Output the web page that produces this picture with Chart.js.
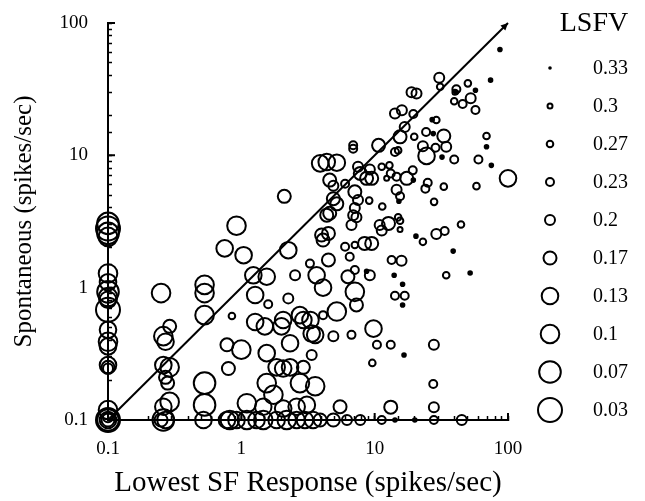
<!DOCTYPE html>
<html>
<head>
<meta charset="utf-8">
<script src="https://cdn.jsdelivr.net/npm/chart.js@4"></script>
<style>
  html, body { margin: 0; padding: 0; background: #fff; }
  #wrap { width: 645px; height: 501px; }
</style>
</head>
<body>
<div id="wrap"><canvas id="sfChart" width="645" height="501"></canvas></div>
<script>
// LSFV levels shown in the key, largest value (smallest marker) first
const lsfvLevels = [0.33, 0.3, 0.27, 0.23, 0.2, 0.17, 0.13, 0.1, 0.07, 0.03];
const markerRadius = [1.8, 2.5, 3.3, 4, 5, 6.5, 8.3, 9.3, 10.8, 12];

// [lowest SF response, spontaneous rate] per cell, spikes/sec
const cells033 = [[8.7, 1.33], [16.6, 0.31], [14, 1.24], [16.2, 1.06], [16.2, 0.74], [20.4, 2.45],
  [38.8, 1.89], [52, 1.29], [14.2, 0.1], [20, 0.1], [87, 63], [74, 37], [41, 30], [57, 31],
  [27, 18.6], [27.5, 14.6], [69, 11.6], [32, 9.7], [75, 8.4], [19.5, 6.5], [15.2, 4.5]];
const cells030 = [[15.5, 2.75], [40, 30], [12.3, 6.7]];
const cells027 = [[0.85, 0.61], [15, 3.4], [15.5, 3.2], [7.1, 2.1], [9.6, 0.27], [23, 2.22],
  [44.4, 3.0], [34.4, 1.24], [31, 33], [50, 35], [39.5, 25.6], [29, 18.5], [69, 14], [58, 5.85],
  [33, 5.8], [27.9, 4.45], [12.9, 8.4], [11.4, 4.1], [9.1, 4.55], [19.8, 13.8], [15, 10.9], [11.3, 8.2]];
const cells023 = [[1.59, 0.75], [6.0, 2.04], [3.27, 1.52], [6.5, 1.71], [7.1, 1.36], [4.1, 0.62],
  [6.7, 0.44], [10.4, 0.37], [13.2, 0.37], [13.4, 1.62], [14.2, 0.87], [16.8, 0.87], [33.5, 2.68],
  [27.5, 0.187], [27.8, 0.1], [11.3, 0.1], [41, 31.6], [45.7, 24.4], [57, 22], [24.3, 15],
  [28.6, 11.4], [39.5, 9.3], [60, 9.3], [25, 6.2], [24, 5.6], [19.3, 7.7], [14.6, 6.9], [13.2, 7.3],
  [15.5, 4.9], [19.5, 20.5], [6.9, 11.9], [6.9, 11.2], [14.2, 10.6], [6.0, 6.1]];
const cells020 = [[0.1, 0.245], [0.1, 0.105], [2.53, 1.24], [2.25, 0.83], [6.9, 3.53], [7.3, 3.4],
  [6.7, 2.97], [10.9, 2.97], [11.3, 2.7], [9.2, 1.24], [4.9, 0.43], [3.37, 0.31], [15.9, 1.6],
  [29, 2.54], [27.8, 0.37], [27.8, 0.125], [6.2, 0.1], [7.8, 0.1], [45, 0.1], [30.5, 38.5],
  [52.5, 27], [23, 11.7], [34.4, 11.6], [14.6, 5.5], [18.9, 30], [20.6, 29.3], [16, 21.9],
  [14.2, 20.7], [16.8, 16.4], [9.2, 7.8], [7.5, 8.2], [4.9, 5.9], [7.5, 4.6], [7.1, 4.0]];
const cells017 = [[0.1, 0.25], [0.1, 0.1], [0.29, 0.51], [0.27, 0.21], [0.28, 0.19], [0.25, 0.1],
  [0.78, 0.37], [0.8, 0.245], [2.92, 0.25], [2.1, 4.9], [4.37, 3.53], [4.6, 3.65], [12.7, 3.06],
  [4.0, 2.5], [4.1, 2.29], [4.5, 2.57], [8.4, 2.16], [9.5, 2.16], [4.5, 1.62], [6.3, 1.21],
  [7.3, 0.74], [13.2, 0.125], [5.5, 0.126], [3.9, 0.1], [4.9, 0.1], [33, 14], [17.4, 6.7],
  [15.5, 13.8], [10.7, 11.9], [7.8, 7.3], [9.5, 6.7], [4.6, 6.5], [7.1, 5.3], [4.9, 4.7],
  [5.2, 4.3], [8.7, 6.7]];
const cells013 = [[0.1, 1.1], [0.1, 0.81], [0.1, 0.48], [0.1, 0.36], [0.1, 0.26], [0.1, 0.1],
  [0.27, 0.39], [0.26, 0.26], [0.26, 0.126], [0.27, 0.1], [0.52, 0.1], [0.75, 1.98], [1.04, 1.76],
  [2.25, 1.92], [1.23, 1.24], [1.55, 1.21], [1.27, 0.88], [1.27, 0.55], [1.5, 0.51], [2.06, 0.57],
  [2.0, 0.51], [2.75, 0.62], [2.92, 0.57], [1.55, 0.32], [2.32, 0.38], [1.84, 0.25], [2.06, 0.245],
  [2.32, 0.25], [1.46, 0.126], [2.06, 0.122], [2.6, 0.126], [0.78, 0.1], [0.92, 0.1], [1.3, 0.1],
  [1.84, 0.1], [2.6, 0.1], [3.0, 0.1], [3.67, 1.24], [4.1, 1.0], [3.3, 0.57], [3.58, 0.44],
  [3.37, 0.45], [9.8, 0.49], [3.1, 0.13], [3.45, 0.1], [24.5, 9.9], [100, 6.7], [4.37, 8.9],
  [5.2, 8.8], [3.9, 8.7]];
const cells010 = [[0.1, 2.42], [0.1, 1.28], [0.1, 0.85], [0.1, 0.39], [0.1, 0.119], [0.25, 0.91],
  [0.26, 0.43], [0.29, 0.25], [0.29, 0.137], [0.53, 1.05], [0.53, 0.91], [0.53, 0.62], [0.92, 2.94],
  [1.0, 0.34], [1.55, 0.19], [1.74, 0.155], [2.75, 0.19], [1.1, 0.134], [0.82, 0.1], [1.1, 0.1],
  [1.46, 0.1], [2.19, 0.1], [7.1, 0.93], [5.2, 0.66], [3.58, 0.18]];
const cells007 = [[0.1, 3.06], [0.1, 2.57], [0.1, 0.93], [0.1, 0.1], [0.26, 0.1], [0.53, 0.19],
  [0.53, 0.13]];
const cells003 = [[0.1, 2.8], [0.1, 0.68], [0.1, 0.1]];

const cellsByLevel = [cells033, cells030, cells027, cells023, cells020,
  cells017, cells013, cells010, cells007, cells003];

// unity line drawn from corner to corner
const unityLine = [[0.1, 0.1], [100, 100]];
const decadeTicks = [0.1, 1, 10, 100];

const serif = '"Liberation Serif", "Times New Roman", serif';

const cellSets = cellsByLevel.map((cells, i) => ({
  label: String(lsfvLevels[i]),
  data: cells.map(([x, y]) => ({ x, y })),
  pointRadius: markerRadius[i],
  pointHoverRadius: markerRadius[i],
  pointBorderWidth: 2,
  pointBorderColor: '#000',
  pointBackgroundColor: i === 0 ? '#000' : 'rgba(0,0,0,0)',
  showLine: false,
  clip: false
}));

const unitySet = {
  label: 'unity',
  data: unityLine.map(([x, y]) => ({ x, y })),
  showLine: true,
  borderColor: '#000',
  borderWidth: 2,
  pointRadius: 0,
  clip: false
};

function decadeLabel(value) {
  const hit = decadeTicks.find(d => Math.abs(d - value) < d * 1e-6);
  return hit === undefined ? '' : String(hit);
}

// longer inward marks at each decade
const decadeMarks = {
  id: 'decadeMarks',
  beforeDatasetsDraw(chart) {
    const { ctx, chartArea } = chart;
    const xs = chart.scales.x, ys = chart.scales.y;
    ctx.save();
    ctx.strokeStyle = '#000';
    ctx.lineWidth = 2;
    ctx.beginPath();
    decadeTicks.forEach(d => {
      const px = xs.getPixelForValue(d);
      const py = ys.getPixelForValue(d);
      ctx.moveTo(px, chartArea.bottom);
      ctx.lineTo(px, chartArea.bottom - 7);
      ctx.moveTo(chartArea.left, py);
      ctx.lineTo(chartArea.left + 7, py);
    });
    ctx.stroke();
    ctx.restore();
  }
};

// arrow head on the end of the unity line
const unityArrow = {
  id: 'unityArrow',
  afterDatasetsDraw(chart) {
    const { ctx } = chart;
    const xs = chart.scales.x, ys = chart.scales.y;
    const [a, b] = unityLine;
    const x0 = xs.getPixelForValue(a[0]), y0 = ys.getPixelForValue(a[1]);
    const x1 = xs.getPixelForValue(b[0]), y1 = ys.getPixelForValue(b[1]);
    const ang = Math.atan2(y1 - y0, x1 - x0);
    const len = 8;
    ctx.save();
    ctx.fillStyle = '#000';
    ctx.beginPath();
    ctx.moveTo(x1, y1);
    ctx.lineTo(x1 - len * Math.cos(ang - 0.45), y1 - len * Math.sin(ang - 0.45));
    ctx.lineTo(x1 - len * Math.cos(ang + 0.45), y1 - len * Math.sin(ang + 0.45));
    ctx.closePath();
    ctx.fill();
    ctx.restore();
  }
};

// size key on the right
const lsfvKey = {
  id: 'lsfvKey',
  afterDraw(chart) {
    const { ctx, chartArea } = chart;
    const markX = chartArea.right + 42;
    const textX = chartArea.right + 85;
    ctx.save();
    ctx.fillStyle = '#000';
    ctx.strokeStyle = '#000';
    ctx.font = '28px ' + serif;
    ctx.textAlign = 'center';
    ctx.textBaseline = 'middle';
    ctx.fillText('LSFV', textX + 1, chartArea.top + 1);
    ctx.font = '20px ' + serif;
    ctx.textAlign = 'left';
    lsfvLevels.forEach((level, i) => {
      const y = chartArea.top + 45 + i * 38;
      ctx.beginPath();
      ctx.arc(markX, y, markerRadius[i], 0, Math.PI * 2);
      if (i === 0) {
        ctx.fill();
      } else {
        ctx.lineWidth = 2;
        ctx.stroke();
      }
      ctx.fillText(String(level), textX, y + 1);
    });
    ctx.restore();
  }
};

const axisGrid = {
  drawOnChartArea: false,
  drawTicks: true,
  tickLength: -4,
  tickColor: '#000',
  tickWidth: 1.5
};

new Chart(document.getElementById('sfChart'), {
  type: 'scatter',
  data: { datasets: [unitySet, ...cellSets] },
  plugins: [decadeMarks, unityArrow, lsfvKey],
  options: {
    responsive: false,
    animation: false,
    layout: { padding: { top: 23, right: 137, left: 0, bottom: 0 } },
    plugins: {
      legend: { display: false },
      tooltip: { enabled: false }
    },
    scales: {
      x: {
        type: 'logarithmic',
        min: 0.1,
        max: 100,
        grid: axisGrid,
        border: { display: true, color: '#000', width: 2 },
        ticks: {
          autoSkip: false,
          maxRotation: 0,
          padding: 22,
          color: '#000',
          font: { family: serif, size: 19 },
          callback: decadeLabel
        },
        title: {
          display: true,
          text: 'Lowest SF Response (spikes/sec)',
          color: '#000',
          font: { family: serif, size: 29, lineHeight: 1 },
          padding: { top: 0, bottom: 3 }
        },
        afterFit(scale) {
          scale.height = 81;
          scale.paddingLeft = 0;
          scale.paddingRight = 0;
        }
      },
      y: {
        type: 'logarithmic',
        min: 0.1,
        max: 100,
        grid: axisGrid,
        border: { display: true, color: '#000', width: 2 },
        ticks: {
          autoSkip: false,
          padding: 24,
          color: '#000',
          font: { family: serif, size: 19 },
          callback: decadeLabel
        },
        title: {
          display: true,
          text: 'Spontaneous (spikes/sec)',
          color: '#000',
          font: { family: serif, size: 25, lineHeight: 1 },
          padding: { top: 12, bottom: 0 }
        },
        afterFit(scale) {
          scale.width = 108;
          // tick padding would otherwise push the plot area down
          scale.paddingTop = 0;
          scale.paddingBottom = 0;
        }
      }
    }
  }
});
</script>
</body>
</html>
